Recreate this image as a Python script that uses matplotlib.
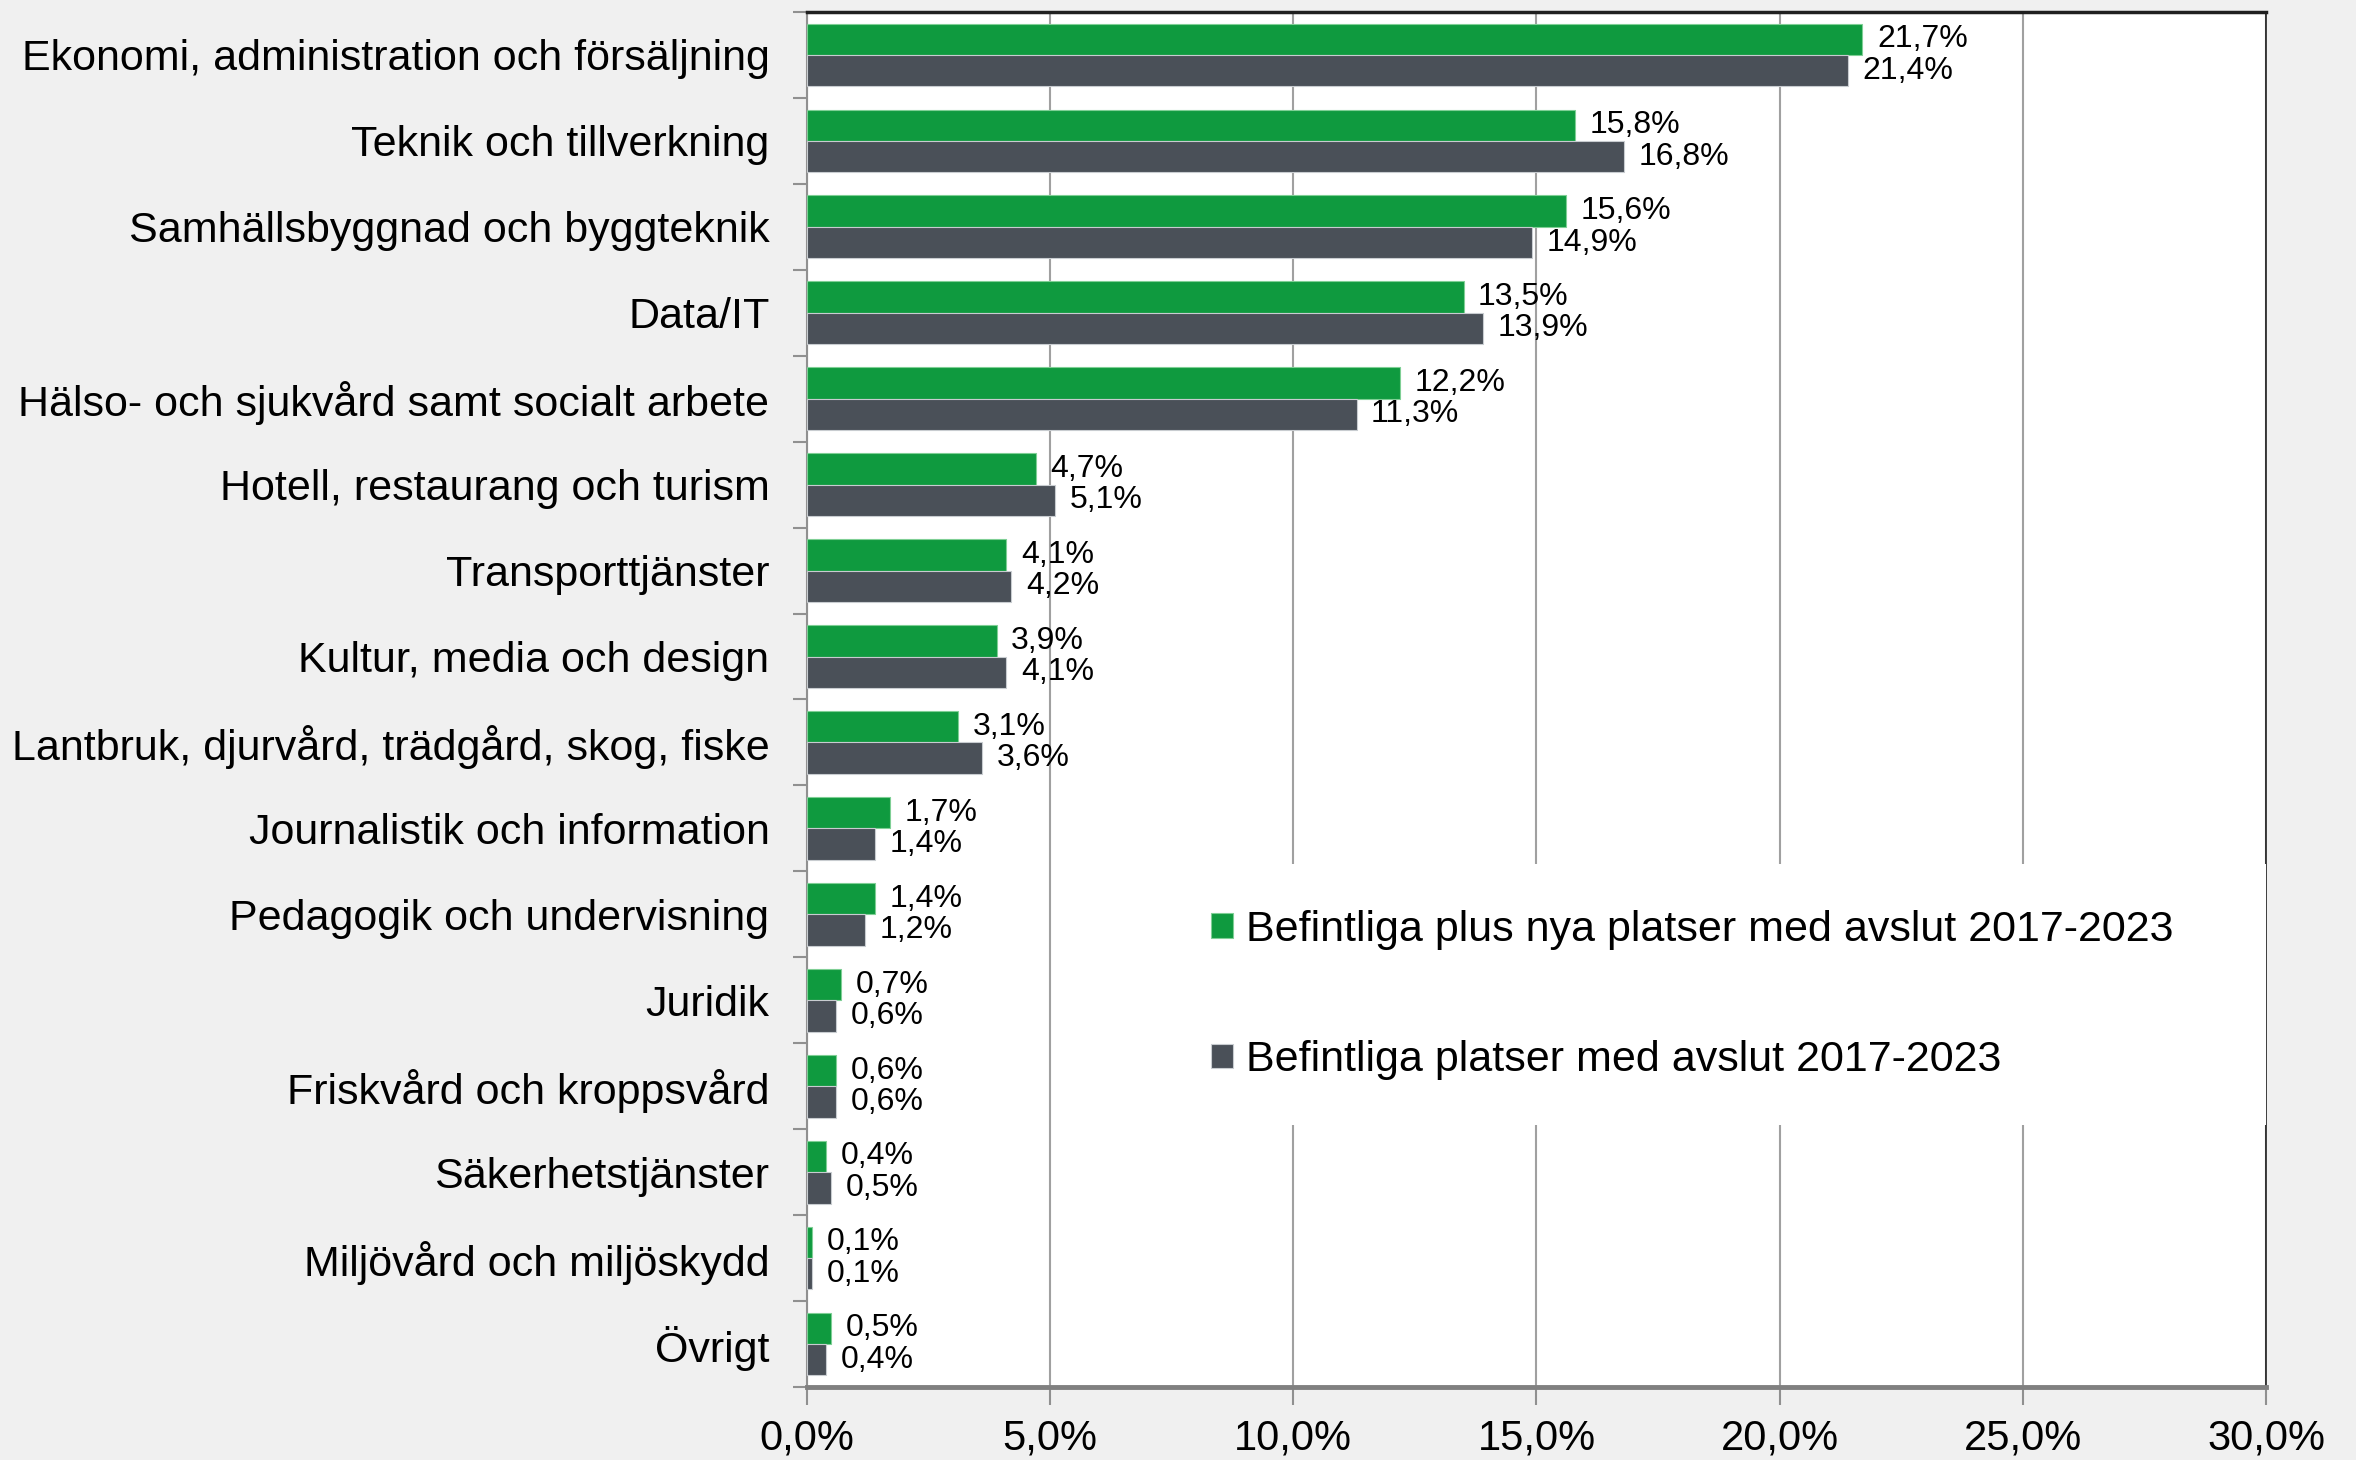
import numpy as np
import matplotlib
matplotlib.use('Agg')
import matplotlib.pyplot as plt
from matplotlib.ticker import FixedLocator, FuncFormatter

plt.rcParams['font.family'] = ['Liberation Sans', 'DejaVu Sans']

categories = [
    'Ekonomi, administration och försäljning',
    'Teknik och tillverkning',
    'Samhällsbyggnad och byggteknik',
    'Data/IT',
    'Hälso- och sjukvård samt socialt arbete',
    'Hotell, restaurang och turism',
    'Transporttjänster',
    'Kultur, media och design',
    'Lantbruk, djurvård, trädgård, skog, fiske',
    'Journalistik och information',
    'Pedagogik och undervisning',
    'Juridik',
    'Friskvård och kroppsvård',
    'Säkerhetstjänster',
    'Miljövård och miljöskydd',
    'Övrigt',
]
plus_nya = [21.7, 15.8, 15.6, 13.5, 12.2, 4.7, 4.1, 3.9, 3.1, 1.7, 1.4, 0.7, 0.6, 0.4, 0.1, 0.5]
befintliga = [21.4, 16.8, 14.9, 13.9, 11.3, 5.1, 4.2, 4.1, 3.6, 1.4, 1.2, 0.6, 0.6, 0.5, 0.1, 0.4]
series_labels = ['Befintliga plus nya platser med avslut 2017-2023',
                 'Befintliga platser med avslut 2017-2023']

green = '#0f9a3f'
gray = '#4a5058'

def pct(v):
    return f'{v:.1f}'.replace('.', ',') + '%'

fig = plt.figure(figsize=(23.56, 14.6), dpi=100, facecolor='#f0f0f0')
ax = fig.add_axes([0.3425, 0.05, 0.6193, 0.9418])
ax.set_facecolor('white')

y = np.arange(len(categories))
h = 0.365
b1 = ax.barh(y - h / 2, plus_nya, height=h, color=green, edgecolor='#7fcf95', linewidth=0.8,
             label=series_labels[0], zorder=3)
b2 = ax.barh(y + h / 2, befintliga, height=h, color=gray, edgecolor='#c8ccd0', linewidth=0.8,
             label=series_labels[1], zorder=3)

for bars, vals in [(b1, plus_nya), (b2, befintliga)]:
    for bar, v in zip(bars, vals):
        ax.text(bar.get_width() + 0.3, bar.get_y() + bar.get_height() / 2, pct(v),
                va='center', ha='left', fontsize=23, color='black', zorder=4)

ax.set_xlim(0, 30)
ax.set_ylim(len(categories) - 0.5, -0.5)
ax.xaxis.set_major_locator(FixedLocator([0, 5, 10, 15, 20, 25, 30]))
ax.xaxis.set_major_formatter(FuncFormatter(lambda v, p: pct(v)))
ax.grid(axis='x', color='#a0a0a0', linewidth=1.5, zorder=1)

ax.set_yticks(y)
ax.set_yticklabels(categories, fontsize=31)
ax.yaxis.set_minor_locator(FixedLocator(np.arange(-0.5, len(categories), 1.0)))
ax.tick_params(axis='y', which='major', length=0, pad=27)
ax.tick_params(axis='y', which='minor', length=10, width=1.5, color='#909090')
ax.tick_params(axis='x', which='major', length=13, width=1.5, color='#909090',
               labelsize=30, pad=10)

ax.spines['left'].set_color('#909090')
ax.spines['left'].set_linewidth(1.5)
ax.spines['bottom'].set_color('#808080')
ax.spines['bottom'].set_linewidth(3.5)
ax.spines['top'].set_color('#202020')
ax.spines['top'].set_linewidth(2.5)
ax.spines['right'].set_color('#202020')
ax.spines['right'].set_linewidth(1.2)

leg = ax.legend(loc='upper left', bbox_to_anchor=(0.246, 0.0, 0.754, 0.38), mode='expand',
                fontsize=31, frameon=True, facecolor='white', edgecolor='none', fancybox=False,
                framealpha=1, handlelength=0.5, handleheight=0.5, handletextpad=0.3,
                labelspacing=2.1, borderpad=1.05, borderaxespad=0)
leg.set_zorder(5)

fig.savefig('out.png', dpi=100, facecolor=fig.get_facecolor())
